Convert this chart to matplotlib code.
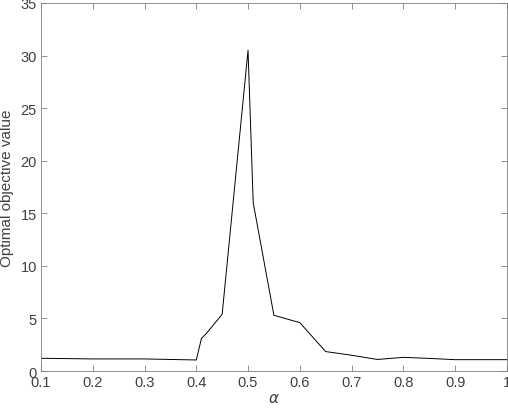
import matplotlib
matplotlib.use('Agg')
import matplotlib.pyplot as plt
import numpy as np

# data
alpha = [0.1, 0.2, 0.3, 0.4, 0.41, 0.42, 0.45, 0.5, 0.51, 0.55, 0.6, 0.65, 0.7, 0.75, 0.8, 0.85, 0.9, 1.0]
obj = [1.21, 1.15, 1.15, 1.05, 3.1, 3.6, 5.4, 30.5, 16.0, 5.3, 4.6, 1.85, 1.5, 1.1, 1.3, 1.2, 1.08, 1.08]
xticks = [0.1, 0.2, 0.3, 0.4, 0.5, 0.6, 0.7, 0.8, 0.9, 1]
xticklabels = ['0.1', '0.2', '0.3', '0.4', '0.5', '0.6', '0.7', '0.8', '0.9', '1']
yticks = [0, 5, 10, 15, 20, 25, 30, 35]

plt.rcParams['font.family'] = ['Liberation Sans', 'DejaVu Sans']
plt.rcParams['font.size'] = 10

fig = plt.figure(figsize=(5.08, 4.14), dpi=100)
ax = fig.add_axes([0.0807, 0.1014, 0.917, 0.889])

ax.plot(alpha, obj, color='black', linewidth=0.7)

ax.set_xlim(0.1, 1)
ax.set_ylim(0, 35)
ax.set_xticks(xticks)
ax.set_xticklabels(xticklabels)
ax.set_yticks(yticks)

gray = '#404040'
for s in ax.spines.values():
    s.set_color('#808080')
    s.set_linewidth(0.6)
ax.tick_params(direction='in', length=4, width=0.6, color='#808080',
               labelcolor=gray, labelsize=10.5, top=True, right=True, pad=3)
ax.set_xlabel(r'$\alpha$', color=gray, fontsize=11, labelpad=1)
ax.set_ylabel('Optimal objective value', color=gray, fontsize=11, labelpad=5)

plt.savefig('out.png', dpi=100)
plt.close()
